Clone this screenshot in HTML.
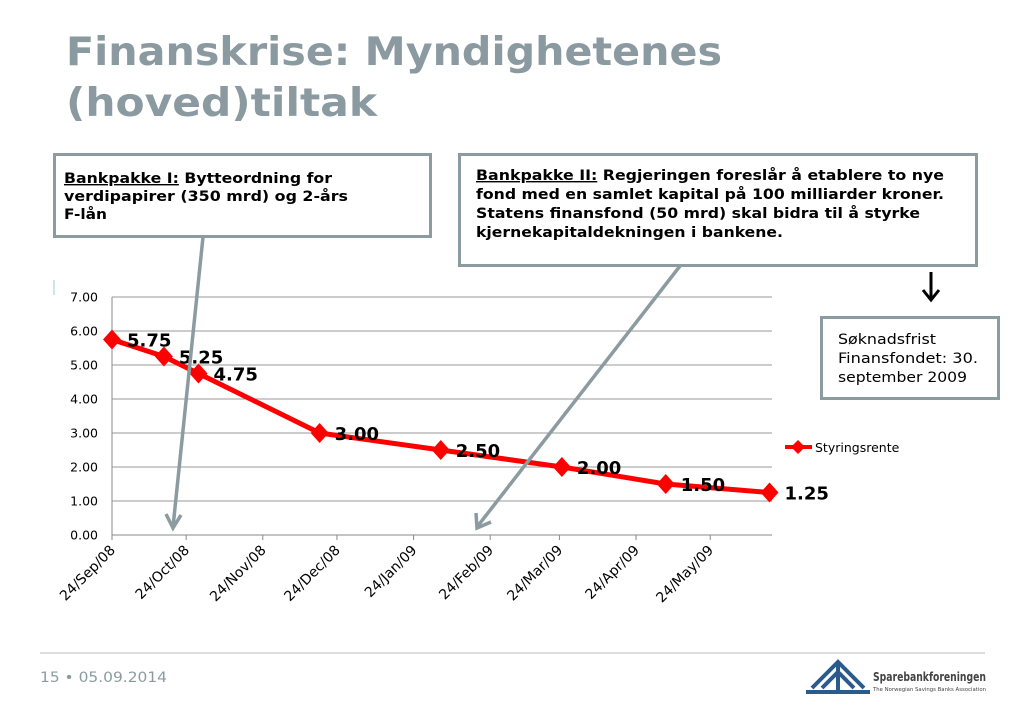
<!DOCTYPE html>
<html><head><meta charset="utf-8"><style>
body{margin:0;background:#fff;}
svg{display:block;font-family:"DejaVu Sans","Liberation Sans",sans-serif;}
</style></head><body>
<svg id="s" width="1023" height="708" viewBox="0 0 1023 708">
<text x="66" y="65" font-size="39" font-weight="bold" fill="#8a9aa0" textLength="656" lengthAdjust="spacingAndGlyphs">Finanskrise: Myndighetenes</text>
<text x="66" y="116" font-size="39" font-weight="bold" fill="#8a9aa0" textLength="311" lengthAdjust="spacingAndGlyphs">(hoved)tiltak</text>

<g id="chart"></g>

<rect x="54.5" y="154.5" width="376" height="82" fill="#fff" stroke="#8c9ba0" stroke-width="3"/>
<g font-size="14" font-weight="bold" fill="#000">
<text x="64" y="183" textLength="268" lengthAdjust="spacingAndGlyphs"><tspan text-decoration="underline">Bankpakke I:</tspan> Bytteordning for</text>
<text x="64" y="201" textLength="284" lengthAdjust="spacingAndGlyphs">verdipapirer (350 mrd) og 2-års</text>
<text x="64" y="219" textLength="43" lengthAdjust="spacingAndGlyphs">F-lån</text></g>
<rect x="459.5" y="154.5" width="517" height="111" fill="#fff" stroke="#8c9ba0" stroke-width="3"/>
<g font-size="14" font-weight="bold" fill="#000">
<text x="476" y="180" textLength="468" lengthAdjust="spacingAndGlyphs"><tspan text-decoration="underline">Bankpakke II:</tspan> Regjeringen foreslår å etablere to nye</text>
<text x="476" y="199" textLength="468" lengthAdjust="spacingAndGlyphs">fond med en samlet kapital på 100 milliarder kroner.</text>
<text x="476" y="218" textLength="444" lengthAdjust="spacingAndGlyphs">Statens finansfond (50 mrd) skal bidra til å styrke</text>
<text x="476" y="237" textLength="307" lengthAdjust="spacingAndGlyphs">kjernekapitaldekningen i bankene.</text></g>
<rect x="821.5" y="317.5" width="177" height="81" fill="#fff" stroke="#8c9ba0" stroke-width="3"/>
<g font-size="14" fill="#000">
<text x="838" y="344" textLength="98" lengthAdjust="spacingAndGlyphs">Søknadsfrist</text>
<text x="838" y="363" textLength="140" lengthAdjust="spacingAndGlyphs">Finansfondet: 30.</text>
<text x="838" y="382" textLength="129" lengthAdjust="spacingAndGlyphs">september 2009</text></g>

<g stroke="#8c9ba0" stroke-width="3.5" fill="none">
<line x1="203" y1="237" x2="173" y2="527"/>
<polyline points="166,514 173,528 181,515"/>
<line x1="680" y1="266" x2="477" y2="527"/>
<polyline points="476,513 477,528 491,522"/>
</g>
<g stroke="#000" stroke-width="3" fill="none">
<line x1="931" y1="272" x2="931" y2="299"/>
<polyline points="923,290 931,300 939,290"/>
</g>
<rect x="53" y="280" width="2" height="15" fill="#cfe3ee"/>

<line x1="40" y1="653" x2="985" y2="653" stroke="#bbb" stroke-width="1"/>
<text x="40" y="682" font-size="14" fill="#8a9aa0" textLength="127" lengthAdjust="spacingAndGlyphs">15 • 05.09.2014</text>
<g>
<path d="M812 688 L838 662 L864 688 M822 688 L838 672 L854 688 M838 662 L838 690 M806 692 L870 692" stroke="#2a5b8c" stroke-width="4" fill="none"/>
<text x="873" y="681" font-size="12" font-weight="bold" fill="#444" textLength="113" lengthAdjust="spacingAndGlyphs">Sparebankforeningen</text>
<text x="873" y="691" font-size="5.5" fill="#444" textLength="113" lengthAdjust="spacingAndGlyphs">The Norwegian Savings Banks Association</text>
</g>
</svg>
<script>
const categories=["24/Sep/08","15/Oct/08","29/Oct/08","17/Dec/08","04/Feb/09","25/Mar/09","06/May/09","17/Jun/09"];
const dayOffsets=[0,21,35,84,133,182,224,266];
const rates=[5.75,5.25,4.75,3.00,2.50,2.00,1.50,1.25];
const yTicks=[0,1,2,3,4,5,6,7];
const xTickLabels=["24/Sep/08","24/Oct/08","24/Nov/08","24/Dec/08","24/Jan/09","24/Feb/09","24/Mar/09","24/Apr/09","24/May/09"];
const xTickDays=[0,30,61,91,122,153,181,212,242];
const NS="http://www.w3.org/2000/svg";
const g=document.getElementById('chart');
const X0=112,X1=772,DMAX=267,Y0=535,Y1=297,VMAX=7;
const xs=d=>X0+(X1-X0)*d/DMAX;
const ys=v=>Y0-(Y0-Y1)*v/VMAX;
function mk(t,a){const e=document.createElementNS(NS,t);for(const k in a)e.setAttribute(k,a[k]);g.appendChild(e);return e;}
yTicks.forEach(v=>{
 const l=mk('line',{x1:X0,x2:X1,y1:ys(v),y2:ys(v),stroke:v===0?'#888':'#999','stroke-width':1});
 
 
 const t=mk('text',{x:98,y:ys(v)+4.5,'font-size':12.5,'text-anchor':'end',fill:'#000'});
 t.textContent=v.toFixed(2);
 
 
});
const ax=mk('line',{x1:X0,x2:X0,y1:Y1,y2:Y0+5,stroke:'#888','stroke-width':1});


xTickLabels.forEach((s,i)=>{
 const x=xs(xTickDays[i]);
 const tk=mk('line',{x1:x,x2:x,y1:Y0,y2:Y0+5,stroke:'#888'});
 
 
 const t=mk('text',{x:x+4,y:Y0+16,'font-size':14,'text-anchor':'end',fill:'#000',transform:`rotate(-45 ${x+4} ${Y0+16})`});
 t.textContent=s;
 
 
});
const pts=rates.map((v,i)=>xs(dayOffsets[i])+','+ys(v)).join(' ');
const line=mk('polyline',{points:pts,fill:'none',stroke:'#ff0000','stroke-width':5,'stroke-linejoin':'round'});


rates.forEach((v,i)=>{
 const x=xs(dayOffsets[i]),y=ys(v);
 const d=mk('polygon',{points:`${x},${y-10} ${x+9},${y} ${x},${y+10} ${x-9},${y}`,fill:'#ff0000'});
 
 
 const t=mk('text',{x:x+15,y:y+7,'font-size':18,'font-weight':'bold',fill:'#000'});
 t.textContent=v.toFixed(2);
 
 
});
const ll=mk('line',{x1:785,x2:812,y1:447,y2:447,stroke:'#ff0000','stroke-width':4});


const ld=mk('polygon',{points:'798,440 805,447 798,454 791,447',fill:'#ff0000'});


const lt=mk('text',{x:815,y:452,'font-size':12.5,fill:'#000'});
lt.textContent='Styringsrente';


</script>
</body></html>
